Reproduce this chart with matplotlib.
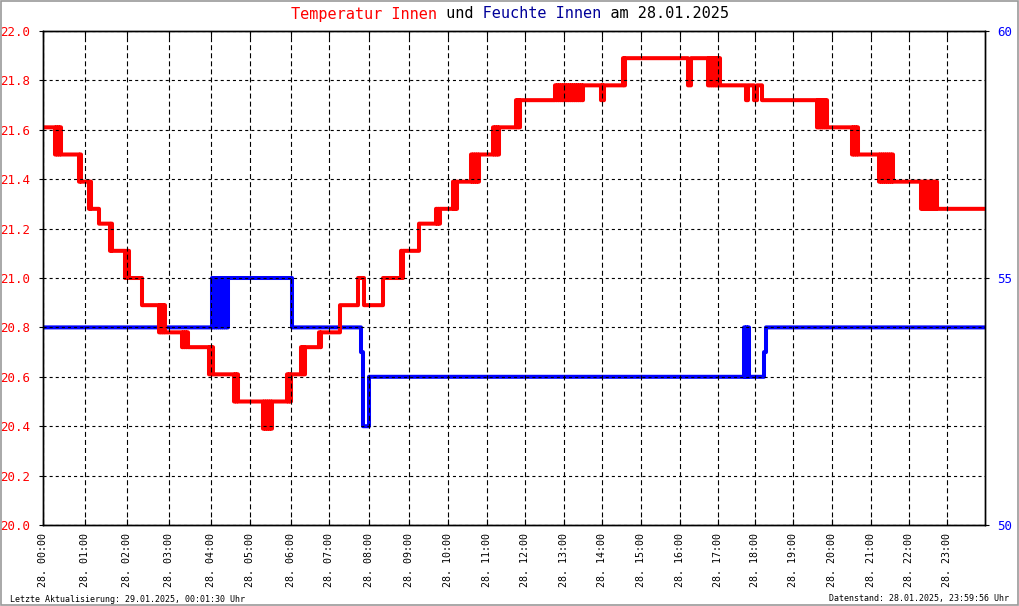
import numpy as np
import matplotlib.pyplot as plt
from matplotlib.patches import Rectangle

plt.rcParams['font.family'] = ['DejaVu Sans Mono']
plt.rcParams['lines.scale_dashes'] = False

# one sample per chart column, 943 samples for the day
n = 943
hour_idx = [0, 42, 84, 126, 168, 207, 248, 286, 326, 366, 405, 444,
            482, 521, 559, 598, 637, 675, 712, 750, 789, 828, 866, 904]
hour_labels = ['28. %02d:00' % h for h in range(24)]

# temperature: (start sample, value)
temp_runs = [(0, 21.61), (15, 21.50), (37, 21.39), (47, 21.28), (56, 21.22), (68, 21.11),
             (84, 21.00), (99, 20.89), (118, 20.78), (141, 20.72), (167, 20.61), (192, 20.50),
             (246, 20.61), (259, 20.72), (277, 20.78), (297, 20.89), (315, 21.00), (321, 20.89),
             (340, 21.00), (358, 21.11), (376, 21.22), (394, 21.28), (411, 21.39), (431, 21.50),
             (453, 21.61), (474, 21.72), (525, 21.78), (580, 21.89), (645, 21.78), (648, 21.89),
             (670, 21.78), (703, 21.72), (705, 21.78), (711, 21.72), (714, 21.78), (719, 21.72),
             (778, 21.61), (811, 21.50), (842, 21.39), (886, 21.28)]
# sensor jitter between two levels: (start, end, level a, level b)
temp_flicker = [(11, 18, 21.61, 21.50), (35, 38, 21.50, 21.39), (45, 49, 21.39, 21.28),
                (66, 70, 21.22, 21.11), (81, 87, 21.11, 21.00), (115, 122, 20.89, 20.78),
                (138, 145, 20.78, 20.72), (165, 170, 20.72, 20.61), (190, 195, 20.61, 20.50),
                (219, 230, 20.50, 20.39), (243, 249, 20.50, 20.61), (257, 262, 20.61, 20.72),
                (275, 279, 20.72, 20.78), (296, 298, 20.78, 20.89), (357, 360, 21.00, 21.11),
                (392, 397, 21.22, 21.28), (409, 414, 21.28, 21.39), (427, 436, 21.39, 21.50),
                (449, 457, 21.50, 21.61), (472, 477, 21.61, 21.72), (511, 540, 21.72, 21.78),
                (557, 562, 21.78, 21.72), (579, 582, 21.78, 21.89), (664, 677, 21.89, 21.78),
                (773, 784, 21.72, 21.61), (808, 815, 21.61, 21.50), (835, 850, 21.50, 21.39),
                (877, 895, 21.39, 21.28)]

# humidity
hum_runs = [(0, 54), (185, 55), (249, 54), (318, 53.5), (320, 52), (326, 53),
            (721, 53.5), (723, 54)]
hum_flicker = [(168, 185, 54, 55), (700, 707, 53, 54)]


def build(runs, flicker):
    vals = np.empty(n)
    ends = [r[0] for r in runs[1:]] + [n]
    for (s, v), e in zip(runs, ends):
        vals[s:e] = v
    for s, e, a, b in flicker:
        vals[s:e:2] = a
        vals[s + 1:e:2] = b
    return vals


x = np.arange(n)
temp = build(temp_runs, temp_flicker)
hum = build(hum_runs, hum_flicker)

fig = plt.figure(figsize=(10.2, 6.06), dpi=100)
ax = fig.add_axes([43 / 1020, 81 / 606, 942 / 1020, 494 / 606])
ax2 = ax.twinx()
ax.set_zorder(ax2.get_zorder() + 1)
ax.patch.set_visible(False)

ax2.plot(x, hum, '-', color='#0000ff', lw=2.9, drawstyle='steps-post')
ax.plot(x, temp, '-', color='#ff0000', lw=2.9, drawstyle='steps-post')

ax.set_xlim(0, n - 1)
ax.set_ylim(20.0, 22.0)
ax2.set_ylim(50, 60)

ax.set_xticks(hour_idx)
ax.set_xticklabels(hour_labels, rotation=90, fontsize=7.2, va='top', ha='center')
ax.set_yticks(np.arange(20.0, 22.01, 0.2))
ax.set_yticklabels(['%.1f' % v for v in np.arange(20.0, 22.01, 0.2)], color='#ff0000', fontsize=9)
ax2.set_yticks([50, 55, 60])
ax2.set_yticklabels(['50', '55', '60'], color='#0000ff', fontsize=9)

ax.tick_params(axis='x', direction='in', top=True, length=4, width=0.8, pad=6)
ax.tick_params(axis='y', direction='out', length=3, width=0.8, pad=6)
ax2.tick_params(axis='y', direction='out', length=3, width=0.8, pad=6)

ax.xaxis.grid(True, color='black', lw=0.8, linestyle=(0, (3.6, 2.2)))
ax.yaxis.grid(True, color='black', lw=0.8, linestyle=(0, (2.2, 2.2)))
ax.set_axisbelow(False)
for a in (ax, ax2):
    for s in a.spines.values():
        s.set_linewidth(1.0)
        s.set_color('black')

# title in several colours, overlaid monospace strings
title_parts = [('Temperatur Innen', '#ff0000'), (' und ', 'black'),
               ('Feuchte Innen', '#000099'), (' am 28.01.2025', 'black')]
full = ''.join(p for p, c in title_parts)
pos = 0
for part, col in title_parts:
    s = ' ' * pos + part + ' ' * (len(full) - pos - len(part))
    fig.text(0.5, 1 - 14 / 606, s, color=col, fontsize=11, ha='center', va='center')
    pos += len(part)

fig.text(10 / 1020, 1 - 599 / 606, 'Letzte Aktualisierung: 29.01.2025, 00:01:30 Uhr',
         fontsize=6, ha='left', va='center')
fig.text(1009 / 1020, 1 - 599 / 606, 'Datenstand: 28.01.2025, 23:59:56 Uhr',
         fontsize=6, ha='right', va='center')

fig.patches.append(Rectangle((0.0005, 0.001), 0.998, 0.997, transform=fig.transFigure,
                             fill=False, edgecolor='#999999', lw=1.2))

plt.savefig('out.png', dpi=100)
